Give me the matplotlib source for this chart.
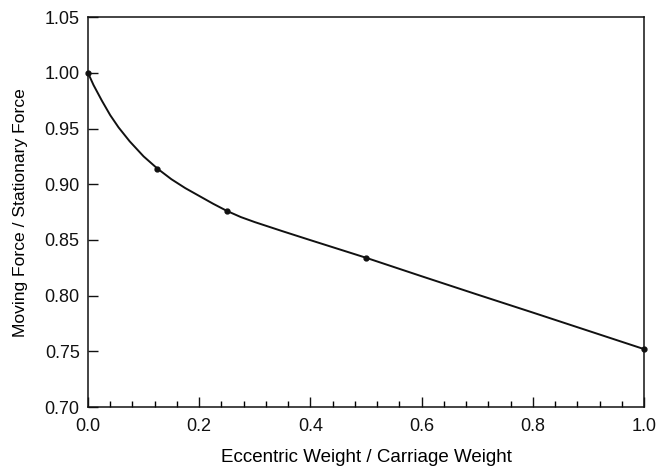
import numpy as np
import matplotlib.pyplot as plt
from matplotlib.ticker import MultipleLocator

# Measured points
ratio_pts = [0.0, 0.125, 0.25, 0.5, 1.0]
force_pts = [1.000, 0.914, 0.876, 0.834, 0.752]

# Fitted curve
ratio_fit = [0.0, 0.01, 0.025, 0.04, 0.055, 0.075, 0.1, 0.125, 0.15, 0.175, 0.2,
             0.225, 0.25, 0.275, 0.3, 0.35, 0.4, 0.45, 0.5, 0.6, 0.7, 0.8, 0.9, 1.0]
force_fit = [1.000, 0.989, 0.975, 0.962, 0.951, 0.9385, 0.925, 0.914, 0.9045, 0.8965, 0.8895,
             0.8825, 0.876, 0.8705, 0.8660, 0.8578, 0.8498, 0.8419, 0.834, 0.8174, 0.801,
             0.7848, 0.7684, 0.752]

plt.rcParams['font.family'] = ['Liberation Sans', 'DejaVu Sans']

fig = plt.figure(figsize=(6.58, 4.72), dpi=100)
ax = fig.add_axes([0.1337, 0.1377, 0.845, 0.826])

ax.plot(ratio_fit, force_fit, '-', color='#111111', linewidth=1.4)
ax.plot(ratio_pts, force_pts, 'o', color='#111111', markersize=3.5, clip_on=False, zorder=5)

ax.set_xlim(0, 1.0)
ax.set_ylim(0.70, 1.05)
ax.xaxis.set_major_locator(MultipleLocator(0.2))
ax.xaxis.set_minor_locator(MultipleLocator(0.04))
ax.yaxis.set_major_locator(MultipleLocator(0.05))
ax.xaxis.set_major_formatter(plt.FuncFormatter(lambda v, p: f'{v:.1f}'))
ax.yaxis.set_major_formatter(plt.FuncFormatter(lambda v, p: f'{v:.2f}'))

ax.tick_params(axis='both', which='major', direction='in', length=7, width=1,
               labelsize=13, colors='#111111')
ax.tick_params(axis='x', which='major', pad=8)
ax.tick_params(axis='y', which='major', pad=6)
ax.tick_params(axis='x', which='minor', direction='in', length=4, width=1)
for s in ax.spines.values():
    s.set_linewidth(1.1)
    s.set_color('#111111')

ax.set_xlabel('Eccentric Weight / Carriage Weight', fontsize=13.5, labelpad=10)
ax.set_ylabel('Moving Force / Stationary Force', fontsize=12.6, labelpad=12)

fig.savefig('out.png', dpi=100)
